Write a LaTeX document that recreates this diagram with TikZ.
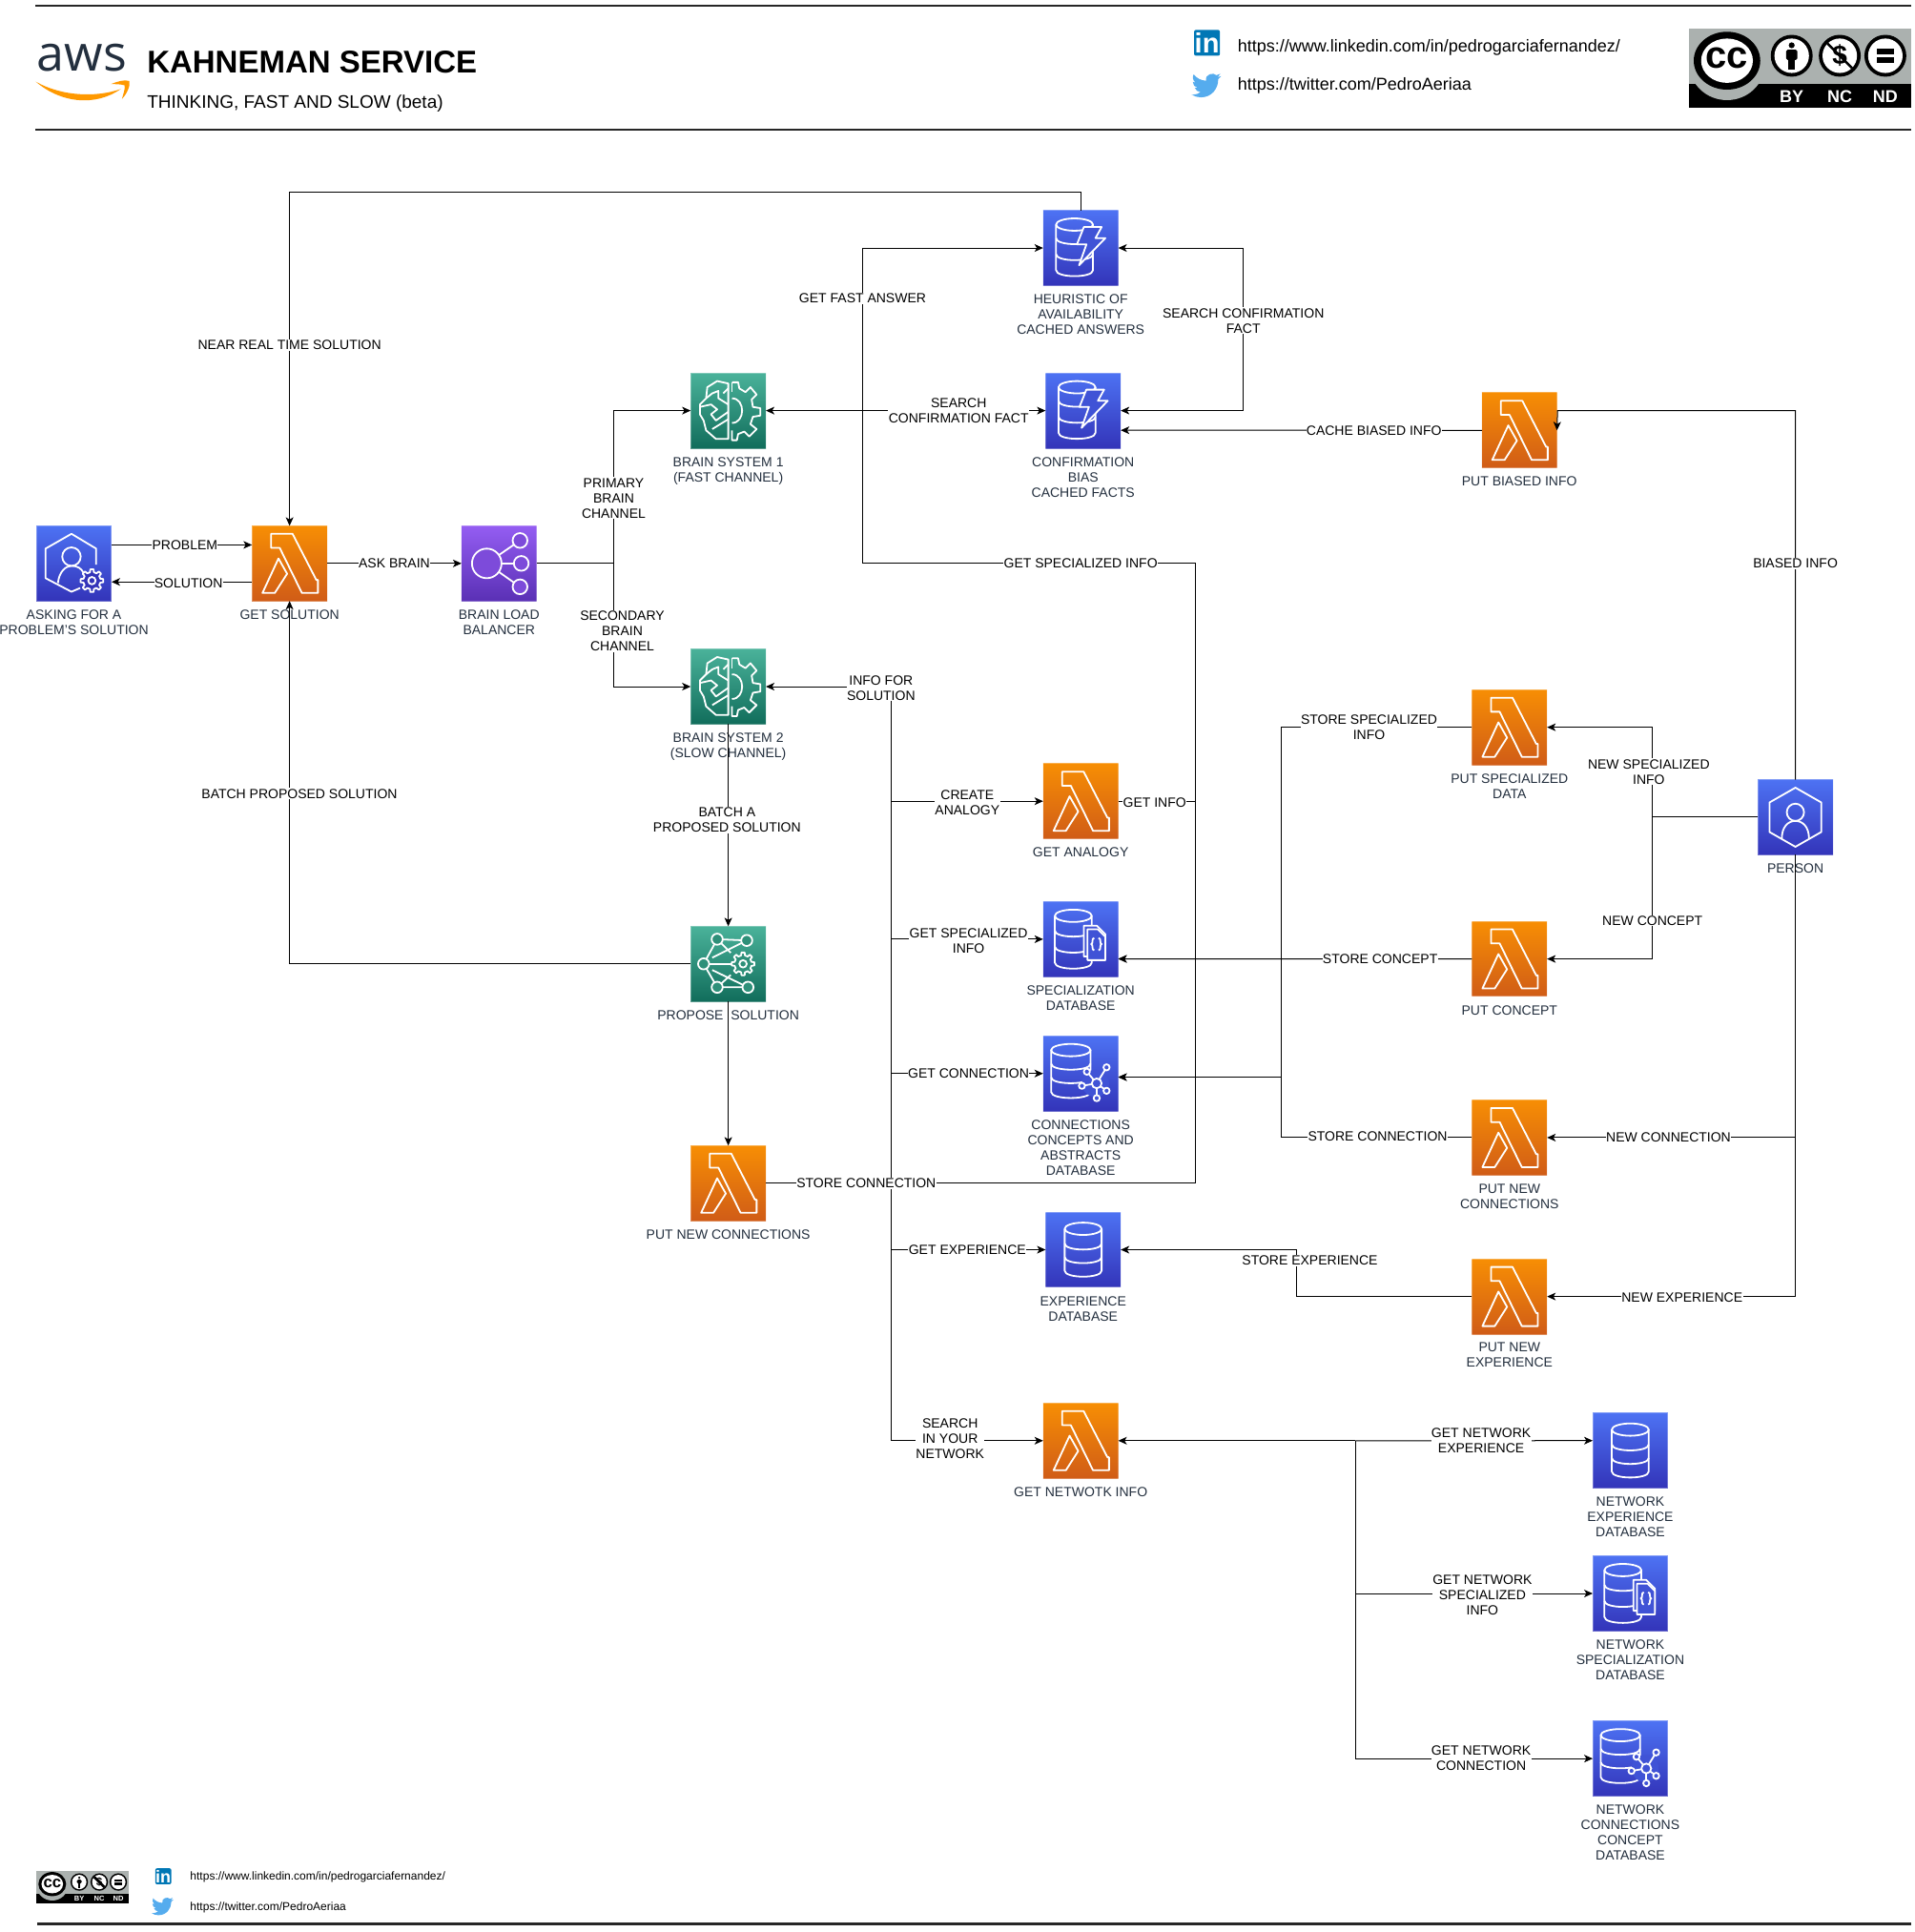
\documentclass[tikz,border=0pt]{standalone}
\usepackage{fontspec}
\setmainfont{Liberation Sans}
\newfontfamily\awsfont{Open Sans}
\usetikzlibrary{arrows.meta,positioning}
\definecolor{lamtop}{HTML}{F78E04}
\definecolor{lambot}{HTML}{D05C17}
\definecolor{dbtop}{HTML}{4D72F3}
\definecolor{dbbot}{HTML}{3334B9}
\definecolor{dbmid}{HTML}{4053D6}
\definecolor{mltop}{HTML}{4AB29A}
\definecolor{mlbot}{HTML}{116D5B}
\definecolor{mlmid}{HTML}{2E9079}
\definecolor{lbtop}{HTML}{945DF2}
\definecolor{lbbot}{HTML}{5A30B5}
\definecolor{capgris}{HTML}{232F3E}
\definecolor{smile}{HTML}{FF9900}
\definecolor{linkblue}{HTML}{0077B5}
\definecolor{birdblue}{HTML}{55ACEE}
\definecolor{ccgris}{HTML}{ABB1AF}
\newcommand{\iconnode}[5]{\node[#1, label={[capt,name=#2cap]below:{#5}}] (#2) at (#3) {}; \pic at (#2) {#4};}
\newcommand{\dbcyl}[5]{%
  \draw[glyph] (#1,#3) ellipse ({#2} and 5);
  \draw[glyph] (#1-#2,#3) -- (#1-#2,#4) .. controls (#1-#2,#4+6.5) and (#1+#2,#4+6.5) .. (#1+#2,#4) -- (#1+#2,#3);
  \foreach \b in {#5} \draw[glyph] (#1-#2,\b) .. controls (#1-#2,\b+6.5) and (#1+#2,\b+6.5) .. (#1+#2,\b);
}
\tikzset{
  icon/.style={rectangle, minimum size=39.4pt, inner sep=0pt, outer sep=0pt, draw=white, draw opacity=0.3, line width=0.5pt},
  lamicon/.style={icon, top color=lamtop, bottom color=lambot},
  dbicon/.style={icon, top color=dbtop, bottom color=dbbot},
  mlicon/.style={icon, top color=mltop, bottom color=mlbot},
  lbicon/.style={icon, top color=lbtop, bottom color=lbbot},
  capt/.style={align=center, text=capgris, inner sep=1.5pt, yshift=-2.9pt},
  lbl/.style={align=center, fill=white, inner xsep=0.2pt, inner ysep=0.5pt},
  glyph/.style={draw=white, line width=0.9pt, line join=round},
  rulebar/.style={line width=1.2pt, black!85},
  pics/cog/.style={code={
    \draw[glyph, fill=#1] (-13:7) \foreach \a in {0,45,...,315}{ -- (\a-13:7) -- (\a-8:9.3) -- (\a+8:9.3) -- (\a+13:7) } -- cycle;
    \draw[glyph] (0,0) circle (3);
  }},
  pics/lambda/.style={code={
    \draw[glyph] (-15,-24) -- (2.4,-24) -- (21.7,13.4) -- (23,13.4) -- (23,24) -- (10,24) -- (-8,-12.6) -- (-15,-12.6) -- cycle;
    \draw[glyph] (-9,-4) -- (-2,8.4) -- (-12,24) -- (-22,24) -- cycle;
  }},
  pics/asker/.style={code={
    \draw[glyph] (18,1) -- (18,-12) -- (-2,-24) -- (-23,-12) -- (-23,12) -- (-2,23) -- (5,20);
    \draw[glyph] (-2,-5.5) circle (7.5);
    \draw[glyph] (-13,16) .. controls (-12,6) and (-6,2) .. (-2,2) .. controls (3,2) and (6,4) .. (8,8);
    \pic at (14.6,14) {cog=dbbot};
  }},
  pics/person/.style={code={
    \draw[glyph] (0,-24) -- (21,-12) -- (21,12) -- (0,24) -- (-21,12) -- (-21,-12) -- cycle;
    \draw[glyph] (0,-4) circle (7);
    \draw[glyph] (-11,17) .. controls (-11,8) and (-6,3) .. (0,3) .. controls (6,3) and (11,8) .. (11,17);
  }},
  pics/balancer/.style={code={
    \foreach \p in {(17,-18.6),(18,0),(17,19)} {
      \draw[glyph] (-10,0) -- \p;
    }
    \fill[lbtop!60!lbbot] (-10,0) circle (11.5);
    \draw[glyph] (-10,0) circle (12);
    \foreach \p in {(17,-18.6),(18,0),(17,19)} {
      \draw[glyph, fill=lbtop!60!lbbot] \p circle (6);
    }
  }},
  pics/brain/.style={code={
    \draw[glyph] (0,-22) -- (-9,-24) -- (-17,-19) -- (-18,-10) -- (-23,-5) -- (-23,3) -- (-20,8) -- (-18,16) -- (-10,23) -- (0,23) -- cycle;
    \draw[glyph] (-18,-10) -- (-13,-14) -- (-8,-16) -- (-8,-10) -- (0,-5);
    \draw[glyph] (0,-18) -- (-4,-14);
    \draw[glyph] (-23,-3) -- (-14,-5) -- (-9,-1) -- (-14,3) -- (-10,8) -- (0,1);
    \draw[glyph] (-13,15) -- (0,7);
    \draw[glyph] (3,-23) -- (8,-23) -- (9,-18) -- (14,-15) -- (18,-19) -- (23,-13) -- (19,-9) -- (20,-3) -- (26,-2) -- (26,4) -- (20,5) -- (18,11) -- (23,15) -- (17,21) -- (13,17) -- (8,19) -- (7,24) -- (3,24) -- (3,16);
    \draw[glyph] (3,-23) -- (3,-15);
    \draw[glyph] (3,-10) .. controls (14,-10) and (14,10) .. (3,10);
  }},
  pics/network/.style={code={
    \draw[glyph] (-20,0) -- (-9,-20) -- (15,-19) -- (-13,-5);
    \draw[glyph] (-20,0) -- (-9,19) -- (16,19) -- (-13,5);
    \draw[glyph] (-20,0) -- (3,0);
    \draw[glyph] (-9,-20) -- (2,-9);
    \draw[glyph] (-9,19) -- (2,9);
    \foreach \p in {(-9,-20),(15,-19),(-20,0),(-9,19),(16,19)} {
      \draw[glyph, fill=mlmid] \p circle (4.5);
    }
    \pic at (12,0) {cog=mlmid};
  }},
  pics/dyn/.style={code={
    \dbcyl{-5}{15}{-19}{18}{-8,5}
    \draw[glyph, fill=dbmid] (2.6,-17) -- (17,-17) -- (12,-8) -- (20,-8) -- (-1.3,14) -- (4.7,-3) -- (-3,-3) -- cycle;
  }},
  pics/plaindb/.style={code={
    \dbcyl{0}{15}{-17}{17}{-5,6}
  }},
  pics/specdb/.style={code={
    \dbcyl{-6}{15}{-19}{19}{-7,6}
    \draw[glyph, fill=dbmid] (2.6,14) -- (2.6,-11) -- (13,-11) -- (20,-4) -- (20,14) -- cycle;
    \draw[glyph, fill=dbmid] (5.5,17) -- (5.5,-8) -- (14,-8) -- (20,-2) -- (20,17) -- cycle;
    \draw[glyph] (11,-1) .. controls (8.5,-1) and (10.5,4) .. (8.5,4) .. controls (10.5,4) and (8.5,9) .. (11,9);
    \draw[glyph] (14.5,-1) .. controls (17,-1) and (15,4) .. (17,4) .. controls (15,4) and (17,9) .. (14.5,9);
  }},
  pics/conndb/.style={code={
    \dbcyl{-8}{16}{-19}{15}{-8,3}
    \fill[dbmid] (12,8) circle (11);
    \foreach \p in {(21,-5),(5,-1.5),(1,10),(13,20),(21,14)} {
      \draw[glyph] (13,8) -- \p;
      \draw[glyph, fill=dbmid] \p circle (2.5);
    }
    \draw[glyph, fill=dbmid] (13,8) circle (4);
  }},
  pics/inlogo/.style={code={
    \fill[linkblue, rounded corners=1pt] (0,0) rectangle (21,21);
    \node[transform shape, text=white, inner sep=0pt, font=\fontsize{14.5}{15}\selectfont\bfseries] (-mark) at (10.5,10.8) {in};
  }},
  pics/birdlogo/.style={code={
    \fill[birdblue] (23.95,4.57) .. controls (23.07,4.96) and (22.11,5.22) .. (21.13,5.35)
      .. controls (22.15,4.74) and (22.92,3.77) .. (23.29,2.62)
      .. controls (22.34,3.18) and (21.29,3.58) .. (20.16,3.8)
      .. controls (18,1.2) and (10.5,2.8) .. (11.78,8.29)
      .. controls (7.69,8.1) and (4.07,6.13) .. (1.64,3.16)
      .. controls (0.6,5) and (0.9,8.2) .. (3.16,9.73)
      .. controls (2.36,9.7) and (1.6,9.5) .. (0.93,9.12)
      .. controls (0.9,11.5) and (2.6,13.6) .. (4.88,14)
      .. controls (4.2,14.2) and (3.4,14.2) .. (2.67,14.09)
      .. controls (3.3,16) and (5.1,17.4) .. (7.27,17.5)
      .. controls (5.6,18.8) and (3.4,19.6) .. (1.17,19.6)
      .. controls (0.78,19.6) and (0.39,19.57) .. (0,19.54)
      .. controls (2.2,20.95) and (4.8,21.75) .. (7.56,21.75)
      .. controls (16.6,21.75) and (21.55,14.25) .. (21.55,7.76)
      .. controls (21.55,7.55) and (21.55,7.34) .. (21.53,7.13)
      .. controls (22.5,6.4) and (23.3,5.5) .. (23.95,4.57) -- cycle;
  }},
  pics/ccbadge/.style={code={
    \fill[ccgris] (0,0) rectangle (180,64);
    \fill[black] (0,45) rectangle (180,64);
    \fill[ccgris] (30.5,29) ellipse (30.5 and 29);
    \fill[black] (30.5,26) ellipse (27 and 23.5);
    \fill[white] (30.5,26) ellipse (21 and 18);
    \node[transform shape, inner sep=0pt, font=\fontsize{20}{21}\selectfont\bfseries] (-cc) at (30.5,24) {cc};
    \foreach \c in {83,122,159} {
      \fill[black] (\c,22) circle (17);
      \fill[white] (\c,22) circle (14);
    }
    \fill[black] (83,13.5) circle (2.4);
    \fill[black, rounded corners=0.8pt] (78.5,17) rectangle (87.5,25.5);
    \fill[black] (80.5,25) rectangle (85.5,33);
    \node[transform shape, inner sep=0pt, font=\fontsize{14}{15}\selectfont\bfseries] (-nc) at (122,22) {\$};
    \draw[black, line width=1.3pt] (112,12) -- (132,32);
    \fill[black] (152,16.5) rectangle (166,20.5);
    \fill[black] (152,23.5) rectangle (166,27.5);
    \node[transform shape, text=white, inner sep=0pt, font=\fontsize{9}{10}\selectfont\bfseries] (-by) at (83,55) {BY};
    \node[transform shape, text=white, inner sep=0pt, font=\fontsize{9}{10}\selectfont\bfseries] (-ncl) at (122,55) {NC};
    \node[transform shape, text=white, inner sep=0pt, font=\fontsize{9}{10}\selectfont\bfseries] (-nd) at (159,55) {ND};
  }},
}
\begin{document}
\begin{tikzpicture}[x=0.646pt, y=-0.646pt, >={Stealth[length=4.5pt,width=4pt,inset=1.2pt]},
                    font=\fontsize{7}{8}\selectfont, line width=0.5pt]
    \useasboundingbox (0,-0.25) rectangle (1554,1567.75);

    \draw[rulebar] (29,4.5) coordinate (topa) -- (1551,4.5) coordinate (topb);
    \draw[rulebar] (29,105) coordinate (heada) -- (1551,105) coordinate (headb);
    \draw[rulebar] (30,1561) coordinate (basea) -- (1551,1561) coordinate (baseb);

    \node[inner sep=0pt, text=capgris, font=\awsfont\fontsize{26}{26}\selectfont] (awsmark) at (66.5,47) {aws};
    \fill[smile] (29,66) .. controls (50,84) and (78,86) .. (98,72) .. controls (78,79) and (50,78) .. (29,66) -- cycle;
    \fill[smile] (90,68) .. controls (95,66) and (101,64) .. (105,65.5) .. controls (106,69) and (103,76) .. (99,80) .. controls (100,76) and (102,71) .. (101,69) .. controls (98,68) and (94,68) .. (90,68) -- cycle;
    \node[anchor=west, inner sep=0pt, font=\fontsize{16.5}{18}\selectfont\bfseries] (title) at (119,50) {KAHNEMAN SERVICE};
    \node[anchor=west, inner sep=0pt, font=\fontsize{9.5}{12}\selectfont] (subtitle) at (119,84) {THINKING, FAST AND SLOW (beta)};
    \node[anchor=west, inner sep=0pt, font=\fontsize{9}{12}\selectfont] (urlin) at (1004,38.5) {https://www.linkedin.com/in/pedrogarciafernandez/};
    \node[anchor=west, inner sep=0pt, font=\fontsize{9}{12}\selectfont] (urlbird) at (1004,69.5) {https://twitter.com/PedroAeriaa};
    \pic (bigin) at (969,24) {inlogo};
    \pic at (967,57) {birdlogo};
    \pic (bigcc) at (1371,23) {ccbadge};
    \pic (smallcc) [scale=0.417] at (29.7,1518) {ccbadge};
    \pic (smallin) [scale=0.62] at (126,1516) {inlogo};
    \pic [scale=0.74] at (123,1538) {birdlogo};
    \node[anchor=west, inner sep=0pt, font=\fontsize{6}{8}\selectfont] (smurlin) at (154,1523) {https://www.linkedin.com/in/pedrogarciafernandez/};
    \node[anchor=west, inner sep=0pt, font=\fontsize{6}{8}\selectfont] (smurlbird) at (154,1548) {https://twitter.com/PedroAeriaa};

    \iconnode{dbicon}{asker}{60,457}{asker}{ASKING FOR A\\PROBLEM'S SOLUTION}
    \iconnode{lamicon}{getsol}{235,457}{lambda}{GET SOLUTION}
    \iconnode{lbicon}{balancer}{405,457}{balancer}{BRAIN LOAD\\BALANCER}
    \iconnode{mlicon}{brainone}{591,333}{brain}{BRAIN SYSTEM 1\\(FAST CHANNEL)}
    \iconnode{mlicon}{braintwo}{591,557}{brain}{BRAIN SYSTEM 2\\(SLOW CHANNEL)}
    \iconnode{mlicon}{propose}{591,782}{network}{PROPOSE~ SOLUTION}
    \iconnode{lamicon}{putnewa}{591,960}{lambda}{PUT NEW CONNECTIONS}
    \iconnode{dbicon}{heuristic}{877,201}{dyn}{HEURISTIC OF\\AVAILABILITY\\CACHED ANSWERS}
    \iconnode{dbicon}{confirm}{879,333}{dyn}{CONFIRMATION\\BIAS\\CACHED FACTS}
    \iconnode{lamicon}{putbiased}{1233,349}{lambda}{PUT BIASED INFO}
    \iconnode{lamicon}{analogy}{877,650}{lambda}{GET ANALOGY}
    \iconnode{dbicon}{specdb}{877,762}{specdb}{SPECIALIZATION\\DATABASE}
    \iconnode{dbicon}{conndb}{877,871}{conndb}{CONNECTIONS\\CONCEPTS AND\\ABSTRACTS\\DATABASE}
    \iconnode{dbicon}{expdb}{879,1014}{plaindb}{EXPERIENCE\\DATABASE}
    \iconnode{lamicon}{getnet}{877,1169}{lambda}{GET NETWOTK INFO}
    \iconnode{lamicon}{putspec}{1225,590}{lambda}{PUT SPECIALIZED\\DATA}
    \iconnode{lamicon}{putconcept}{1225,778}{lambda}{PUT CONCEPT}
    \iconnode{lamicon}{putconn}{1225,923}{lambda}{PUT NEW\\CONNECTIONS}
    \iconnode{lamicon}{putexp}{1225,1052}{lambda}{PUT NEW\\EXPERIENCE}
    \iconnode{dbicon}{person}{1457,663}{person}{PERSON}
    \iconnode{dbicon}{netexp}{1323,1177}{plaindb}{NETWORK\\EXPERIENCE\\DATABASE}
    \iconnode{dbicon}{netspec}{1323,1293}{specdb}{NETWORK\\SPECIALIZATION\\DATABASE}
    \iconnode{dbicon}{netconn}{1323,1427}{conndb}{NETWORK\\CONNECTIONS\\CONCEPT\\DATABASE}

    \foreach \n/\x/\y in {toprail/235/156, brainsplit/498/457, fastjoin/700/333, inforail/970/457,
                          confrail/1009/267, biascorner/1264/333, infotop/723/557, storerail/1040/700,
                          connrail/1040/900, newup/1341/626, newdown/1341/747, expcorner/1052/1030,
                          netjoin/1100/1169} {
      \coordinate (\n) at (\x,\y);
    }

    \draw[->] ([yshift=9.7pt]asker.east) -- ([yshift=9.7pt]getsol.west);
    \draw[->] ([yshift=-9.7pt]getsol.west) -- ([yshift=-9.7pt]asker.east);
    \draw[->] (getsol.east) -- (balancer.west);
    \draw[->] (heuristic.north) |- (toprail) -- (getsol.north);
    \draw[->] (propose.west) -| (getsol.south);
    \draw (balancer.east) -- (brainsplit);
    \draw[->] (brainsplit) |- (brainone.west);
    \draw[->] (brainsplit) |- (braintwo.west);
    \draw[->] (braintwo.south) -- (propose.north);
    \draw[->] (propose.south) -- (putnewa.north);
    \draw[<->] (brainone.east) -- (confirm.west);
    \draw[->] (fastjoin) |- (heuristic.west);
    \draw (fastjoin) |- (inforail) |- (putnewa.east);
    \draw (analogy.east) -| (inforail);
    \draw[<->] (heuristic.east) -| (confrail) |- (confirm.east);
    \draw[->] (putbiased.west) -- ([yshift=-10.3pt]confirm.east);
    \draw[->] (person.north) |- (biascorner) -- (putbiased.east);
    \draw[->] (infotop) -- (braintwo.east);
    \draw[->] (infotop) |- (getnet.west);
    \foreach \t in {analogy,specdb,conndb,expdb} {
      \draw[->] (infotop |- \t.west) -- (\t.west);
    }
    \draw[->] (putspec.west) -| (storerail) |- ([yshift=-10.3pt]specdb.east);
    \draw[->] (putspec.west) -| (connrail) |- ([yshift=-1.9pt]conndb.east);
    \draw[->] (putconcept.west) -- ([yshift=-10.3pt]specdb.east);
    \draw[->] (putconn.west) -| (connrail) |- ([yshift=-1.9pt]conndb.east);
    \draw[->] (person.west) -| (newup) |- (putspec.east);
    \draw[->] (person.west) -| (newdown) |- (putconcept.east);
    \draw[->] (person.south) |- (putconn.east);
    \draw[->] (person.south) |- (putexp.east);
    \draw[->] (putexp.west) -| (expcorner) |- (expdb.east);
    \draw[->] (netjoin) -- (getnet.east);
    \draw[->] (netjoin) -- ([yshift=5.2pt]netexp.west);
    \draw[->] (netjoin) |- (netspec.west);
    \draw[->] (netjoin) |- (netconn.west);

    \foreach \n/\x/\y/\t in {lprob/150/442/PROBLEM, lsol/153/473/SOLUTION, lask/320/457/ASK BRAIN,
        lnear/235/280/NEAR REAL TIME SOLUTION, lbatch/243/644/BATCH PROPOSED SOLUTION,
        lprim/498/404/PRIMARY\\BRAIN\\CHANNEL, lsec/505/512/SECONDARY\\BRAIN\\CHANNEL,
        lbatcha/590/665/BATCH A\\PROPOSED SOLUTION, lfast/700/242/GET FAST ANSWER,
        lsearcha/778/333/SEARCH\\CONFIRMATION FACT, lsearchb/1009/260/SEARCH CONFIRMATION\\FACT,
        lcache/1115/349/CACHE BIASED INFO, lspecinfo/877/457/GET SPECIALIZED INFO,
        lbiased/1457/457/BIASED INFO, linfo/715/558/INFO FOR\\SOLUTION, lcreate/785/651/CREATE\\ANALOGY,
        lgetinfo/937/651/GET INFO, lgetspec/786/763/GET SPECIALIZED\\INFO, lgetconn/786/871/GET CONNECTION,
        lstorea/703/960/STORE CONNECTION, lgetexp/785/1014/GET EXPERIENCE,
        lyour/771/1167/SEARCH\\IN YOUR\\NETWORK, lstspec/1111/590/STORE SPECIALIZED\\INFO,
        lstcon/1120/778/STORE CONCEPT, lstconn/1118/922/STORE CONNECTION, lstexp/1063/1023/STORE EXPERIENCE,
        lnewspec/1338/626/NEW SPECIALIZED\\INFO, lnewcon/1341/747/NEW CONCEPT,
        lnewconn/1354/923/NEW CONNECTION, lnewexp/1365/1053/NEW EXPERIENCE,
        lnetexp/1202/1169/GET NETWORK\\EXPERIENCE, lnetspec/1203/1294/GET NETWORK\\SPECIALIZED\\INFO,
        lnetconn/1202/1427/GET NETWORK\\CONNECTION} {
      \node[lbl] (\n) at (\x,\y) {\t};
    }
\end{tikzpicture}
\end{document}
